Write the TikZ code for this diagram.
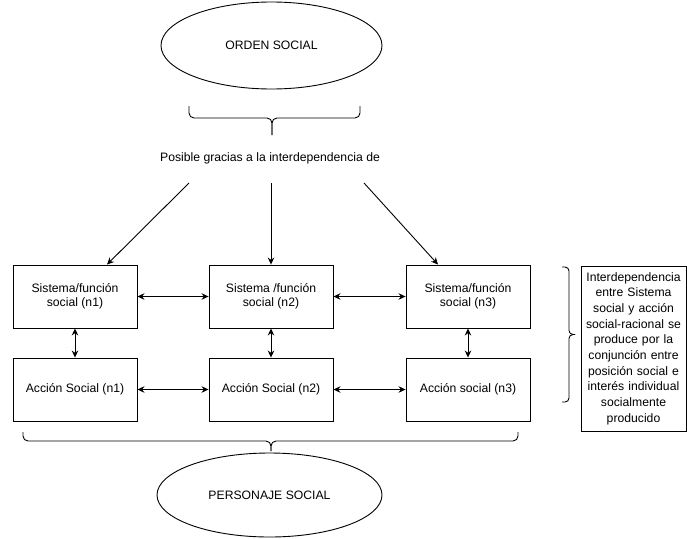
\documentclass[tikz,border=0pt]{standalone}
\usepackage{fontspec}
\setmainfont{Liberation Sans}
\usetikzlibrary{arrows.meta,shapes.geometric}

\tikzset{
  caja/.style={draw, line width=0.9pt, minimum width=124pt, minimum height=63pt, align=center, inner sep=2pt, font=\fontsize{12.2}{14.4}\selectfont},
  ovalo/.style={draw, ellipse, line width=0.9pt, inner sep=0pt, font=\fontsize{12.2}{14.4}\selectfont},
  flecha/.style={line width=0.9pt, -{Stealth[length=7pt,width=6.5pt]}},
  dobleflecha/.style={line width=0.9pt, {Stealth[length=7pt,width=6.5pt]}-{Stealth[length=7pt,width=6.5pt]}},
  llave/.style={line width=0.9pt, rounded corners=5pt}
}

\begin{document}
\begin{tikzpicture}[x=1pt,y=-1pt]
\useasboundingbox (0,0) rectangle (687,538);

%Shape: Ellipse
\draw (271.5,45.5) node [ovalo, minimum width=221pt, minimum height=87pt] (orden) {ORDEN SOCIAL};
%Shape: Brace (top)
\draw [llave] (189,106) -- (189,118) -- (272,118) -- (272,135);
\draw [llave] (360,106) -- (360,118) -- (272,118) -- (272,135);

% Text Node
\draw (270,158) node [font=\fontsize{12.2}{14.4}\selectfont, inner sep=0.75pt] (posible) {Posible gracias a la interdependencia de};

%Shape: Rectangle
\draw (75,296.5) node [caja] (s1) {Sistema/función\\social (n1)};
\draw (271,296.5) node [caja] (s2) {Sistema /función\\social (n2)};
\draw (468,296.5) node [caja] (s3) {Sistema/función\\social (n3)};
\draw (75,389.5) node [caja] (a1) {Acción Social (n1)};
\draw (271,389.5) node [caja] (a2) {Acción Social (n2)};
\draw (468,389.5) node [caja] (a3) {Acción social (n3)};

%Straight Lines
\coordinate (p1) at (189,183);
\coordinate (p2) at (271,183);
\coordinate (p3) at (364,183);
\draw [flecha] (p1) -- ([xshift=32pt]s1.north);
\draw [flecha] (p2) -- (s2.north);
\draw [flecha] (p3) -- ([xshift=-30pt]s3.north);

\draw [dobleflecha] (s1) -- (s2);
\draw [dobleflecha] (s2) -- (s3);
\draw [dobleflecha] (a1) -- (a2);
\draw [dobleflecha] (a2) -- (a3);
\draw [dobleflecha] (s1) -- (a1);
\draw [dobleflecha] (s2) -- (a2);
\draw [dobleflecha] (s3) -- (a3);

%Shape: Brace (right)
\draw [llave, rounded corners=4pt] (562,267) -- (569,267) -- (569,334.5) -- (575,334.5);
\draw [llave, rounded corners=4pt] (562,402) -- (569,402) -- (569,334.5) -- (575,334.5);

% Text Node
\draw (633.5,348.5) node [draw, line width=0.9pt, minimum width=105pt, minimum height=165pt, text width=101pt, align=center, inner sep=2pt, font=\fontsize{12.2}{15.7}\selectfont] (nota) {Interdependencia entre Sistema social y acción social-racional se produce por la conjunción entre posición social e interés individual socialmente producido};

%Shape: Brace (bottom)
\draw [llave] (23,432) -- (23,441) -- (271,441) -- (271,451);
\draw [llave] (518,432) -- (518,441) -- (271,441) -- (271,451);

%Shape: Ellipse
\draw (269.5,495) node [ovalo, minimum width=225pt, minimum height=84pt] (personaje) {PERSONAJE SOCIAL};

\end{tikzpicture}
\end{document}
